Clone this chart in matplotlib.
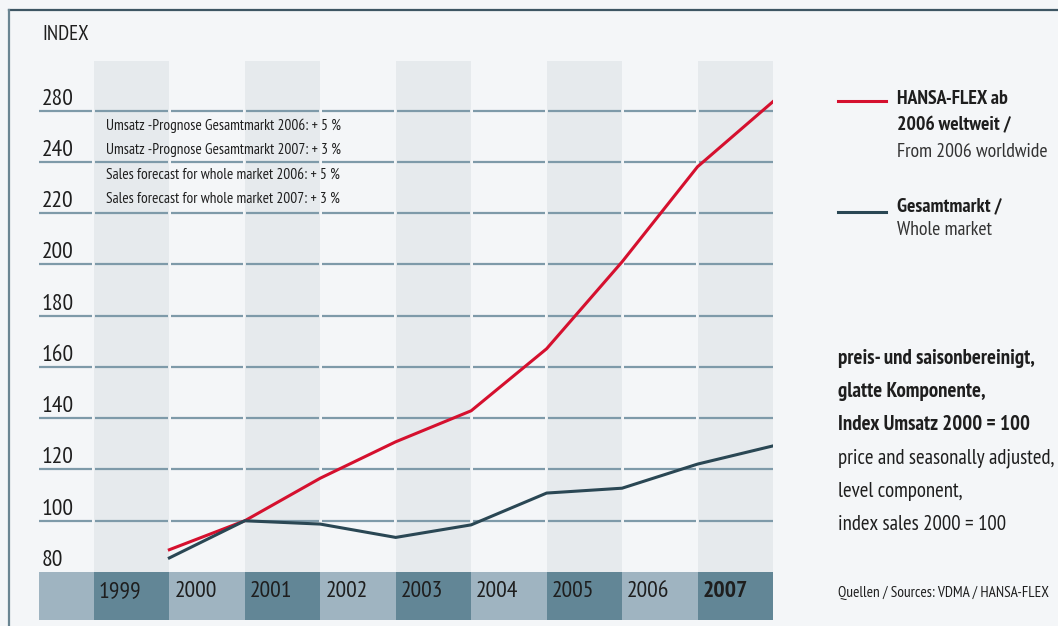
import matplotlib
matplotlib.use("Agg")
import matplotlib.pyplot as plt
from matplotlib.patches import Rectangle
from matplotlib.lines import Line2D
from matplotlib import font_manager

# ---------------- data ----------------
years = ["1999", "2000", "2001", "2002", "2003", "2004", "2005", "2006", "2007"]
hansa_flex = [88.7, 100.0, 116.6, 130.8, 142.9, 167.1, 201.0, 238.1, 263.5]
gesamtmarkt = [85.5, 100.0, 98.7, 93.5, 98.4, 110.8, 112.7, 122.1, 129.2]
grid_values = [80, 100, 120, 140, 160, 180, 200, 220, 240, 260]
tick_labels = ["80", "100", "120", "140", "160", "180", "200", "220", "240", "280"]
annotations = [
    "Umsatz -Prognose Gesamtmarkt 2006: + 5 %",
    "Umsatz -Prognose Gesamtmarkt 2007: + 3 %",
    "Sales forecast for whole market 2006: + 5 %",
    "Sales forecast for whole market 2007: + 3 %",
]
legend_red = ["HANSA-FLEX ab", "2006 weltweit /", "From 2006 worldwide"]
legend_dark = ["Gesamtmarkt /", "Whole market"]
notes_bold = ["preis- und saisonbereinigt,", "glatte Komponente,", "Index Umsatz 2000 = 100"]
notes_reg = ["price and seasonally adjusted,", "level component,", "index sales 2000 = 100"]
source = "Quellen / Sources: VDMA / HANSA-FLEX"

# ---------------- style ----------------
avail = {f.name for f in font_manager.fontManager.ttflist}
prefs = ["PT Sans Narrow", "Roboto Condensed", "Fira Sans Condensed", "Archivo Narrow",
         "Asap Condensed", "IBM Plex Sans Condensed", "Liberation Sans Narrow", "Lato"]
fam = [f for f in prefs if f in avail][:1] + ["DejaVu Sans"]
plt.rcParams["font.family"] = fam

BG = "#f4f6f8"
SHADE = "#e6eaed"
GRID = "#7e9aa9"
BAND_LIGHT = "#9fb4c1"
BAND_DARK = "#628696"
RED = "#d5102e"
DARK = "#2a4754"
TXT = "#1e1e1e"
TXT2 = "#333333"

W, H = 1058, 626
fig = plt.figure(figsize=(W / 100, H / 100), dpi=100, facecolor=BG)

def fx(px):
    return px / W

def fy(py):
    return 1 - py / H

ax = fig.add_axes([fx(39), fy(620), fx(773 - 39), (620 - 61) / H])
ax.set_facecolor(BG)
n = len(years)
x_left = -0.5 - 55 / 75.6
ax.set_xlim(x_left, n - 0.5)
px_per_unit = 51.3 / 20.0
ylow = 80 - 48 / px_per_unit
ytop = 100 + (521 - 61) / px_per_unit
ax.set_ylim(ylow, ytop)
for s in ax.spines.values():
    s.set_visible(False)
ax.set_xticks([])
ax.set_yticks([])

for i in range(n):
    if i % 2 == 0:
        ax.add_patch(Rectangle((i - 0.5, 80), 1, ytop - 80, facecolor=SHADE,
                               edgecolor="none", zorder=0))

gap = 1.5 / 75.6
edges = [x_left] + [i - 0.5 for i in range(n)] + [n - 0.5]
for gv in grid_values[1:]:
    for a, b in zip(edges[:-1], edges[1:]):
        ax.plot([a + (gap if a > x_left else 0), b - (gap if b < n - 0.5 else 0)],
                [gv, gv], color=GRID, lw=1.6, solid_capstyle="butt", zorder=1)

ax.add_patch(Rectangle((x_left, ylow), -0.5 - x_left, 80 - ylow, facecolor=BAND_LIGHT,
                       edgecolor="none", zorder=2))
for i, yr in enumerate(years):
    col = BAND_DARK if i % 2 == 0 else BAND_LIGHT
    ax.add_patch(Rectangle((i - 0.5, ylow), 1, 80 - ylow, facecolor=col,
                           edgecolor="none", zorder=2))
    ax.text(i - 0.5 + 5 / 75.6, 80 - (597 - 572) / px_per_unit, yr, ha="left",
            va="baseline", fontsize=17, color=TXT,
            fontweight="bold" if yr == "2007" else "normal", zorder=3)

for gv, lab in zip(grid_values, tick_labels):
    ax.text(x_left + 3 / 75.6, gv + 6 / px_per_unit, lab, ha="left", va="baseline",
            fontsize=17, color=TXT, zorder=3)

xs = [i + 0.5 for i in range(n)]
ax.plot(xs, hansa_flex, color=RED, lw=2.2, zorder=4, solid_joinstyle="miter")
ax.plot(xs, gesamtmarkt, color=DARK, lw=2.2, zorder=4, solid_joinstyle="miter")

for t, yy in zip(annotations, [130, 154, 179, 203]):
    fig.text(fx(106), fy(yy), t, ha="left", va="baseline", fontsize=11, color=TXT)

fig.text(fx(42), fy(40), "INDEX", ha="left", va="baseline", fontsize=15, color=TXT)

fig.add_artist(Line2D([fx(838), fx(886)], [fy(101), fy(101)], color=RED, lw=2.2))
fig.add_artist(Line2D([fx(838), fx(886)], [fy(212), fy(212)], color=DARK, lw=2.2))
for t, yy, bold in zip(legend_red, [103.5, 130, 157], [True, True, False]):
    fig.text(fx(897), fy(yy), t, ha="left", va="baseline", fontsize=14.2,
             fontweight="bold" if bold else "normal", color=TXT if bold else TXT2)
for t, yy, bold in zip(legend_dark, [211.5, 235], [True, False]):
    fig.text(fx(897), fy(yy), t, ha="left", va="baseline", fontsize=14.2,
             fontweight="bold" if bold else "normal", color=TXT if bold else TXT2)

for t, yy in zip(notes_bold, [363.5, 397, 430]):
    fig.text(fx(838), fy(yy), t, ha="left", va="baseline", fontsize=15,
             fontweight="bold", color=TXT)
for t, yy in zip(notes_reg, [463, 497, 530]):
    fig.text(fx(838), fy(yy), t, ha="left", va="baseline", fontsize=15, color=TXT)
fig.text(fx(838), fy(596.5), source, ha="left", va="baseline", fontsize=11, color=TXT)

fig.add_artist(Line2D([fx(9), 1], [fy(9.5), fy(9.5)], color="#3d5563", lw=1.6))
fig.add_artist(Line2D([fx(9), fx(9)], [fy(9.5), 0], color="#6a8592", lw=1.6))

fig.savefig("out.png", dpi=100, facecolor=BG)
